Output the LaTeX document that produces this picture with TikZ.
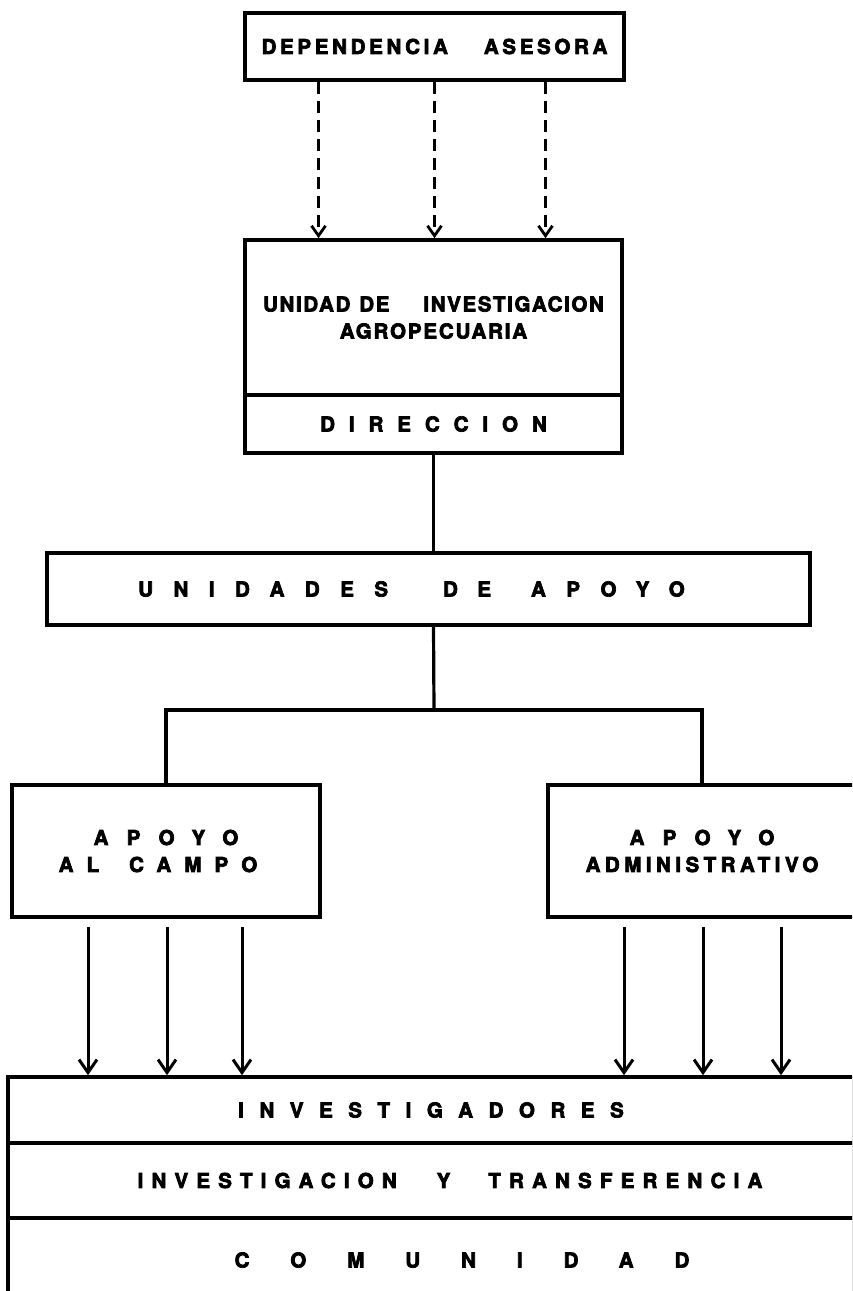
\documentclass[tikz,border=0pt]{standalone}
\usepackage{fontspec}
\setmainfont{TeX Gyre Heros}[BoldFeatures={FakeBold=3.5}]
\usepackage{tikz}
\usetikzlibrary{arrows.meta,positioning}
\newcommand{\trk}[2]{{\addfontfeature{LetterSpace=#1}#2}}
\tikzstyle{unit}=[draw, line width=3.6pt
,inner sep=0pt
,align=center
,font=\bfseries\fontsize{20.5}{27}\selectfont
]
\tikzstyle{link} = [draw,line width=3.2pt,-]
\tikzstyle{flow} = [draw,line width=3pt,-{Straight Barb[length=13pt,width=18pt,line width=3pt]}]
\tikzstyle{advice} = [draw,line width=2.8pt,dash pattern=on 12pt off 7pt,-{Straight Barb[length=10pt,width=14pt,line width=2.8pt]}]

\begin{document}
\begin{tikzpicture}[x=1pt,y=-1pt]
    \useasboundingbox (0,0) rectangle (852,1291);
    \clip (0,0) rectangle (852,1291);
    % boxes, top to bottom
    \node[unit, minimum width=379pt, minimum height=67pt] (dep) at (434.5,46.5)
        {\trk{18}{DEPENDENCIA}\hspace{36pt}\trk{18}{ASESORA}};
    \node[unit, minimum width=377pt, minimum height=155pt] (uia) at (433.5,317.5)
        {\trk{8}{UNIDAD}\hspace{9pt}\trk{8}{DE}\hspace{34pt}\trk{8}{INVESTIGACION}\\ \trk{9}{AGROPECUARIA}};
    \node[unit, minimum width=377pt, minimum height=58pt] (dir) at (433.5,424)
        {\trk{68}{DIRECCION}};
    \node[unit, minimum width=763pt, minimum height=72pt] (apoyo) at (428.5,589)
        {\trk{100}{UNIDADES}\hspace{55pt}\trk{95}{DE}\hspace{40pt}\trk{100}{APOYO}\hspace*{34pt}};
    \node[unit, minimum width=308pt, minimum height=132pt] (campo) at (166,851)
        {\trk{89}{APOYO}\\ \trk{64}{AL}\hspace{30pt}\trk{64}{CAMPO}\hspace*{16pt}};
    \node[unit, minimum width=308pt, minimum height=132pt] (admin) at (702,851)
        {\trk{89}{APOYO}\\ \trk{22}{ADMINISTRATIVO}};
    \node[unit, minimum width=846pt, minimum height=66pt] (inv) at (431,1110)
        {\trk{76}{INVESTIGADORES}};
    \node[unit, minimum width=846pt, minimum height=75pt] (tra) at (431,1180.5)
        {\hspace*{38pt}\trk{40}{INVESTIGACION}\hspace{40pt}\trk{40}{Y}\hspace{38pt}\trk{40}{TRANSFERENCIA}};
    \node[unit, minimum width=846pt, minimum height=84pt] (com) at (431,1260)
        {\hspace*{62pt}\trk{200}{COMUNIDAD}};

    % advisory links
    \foreach \dx in {-116,0,111}
        \path[advice] ([xshift=\dx pt]dep.south) -- ([xshift=\dx pt]dep.south |- uia.north);

    % line of command
    \coordinate (split) at (434,710);
    \path[link] (dir.south) -- (dir.south |- apoyo.north);
    \path[link] (dir.south |- apoyo.south) -- (split);
    \path[link] (campo.north) |- (split) -| (admin.north);

    % support to researchers
    \foreach \dx in {-78,1,76}
        \path[flow] ([xshift=\dx pt,yshift=-8pt]campo.south) -- ([xshift=\dx pt]campo.south |- inv.north);
    \foreach \dx in {-78,1,79}
        \path[flow] ([xshift=\dx pt,yshift=-8pt]admin.south) -- ([xshift=\dx pt]admin.south |- inv.north);
\end{tikzpicture}
\end{document}
